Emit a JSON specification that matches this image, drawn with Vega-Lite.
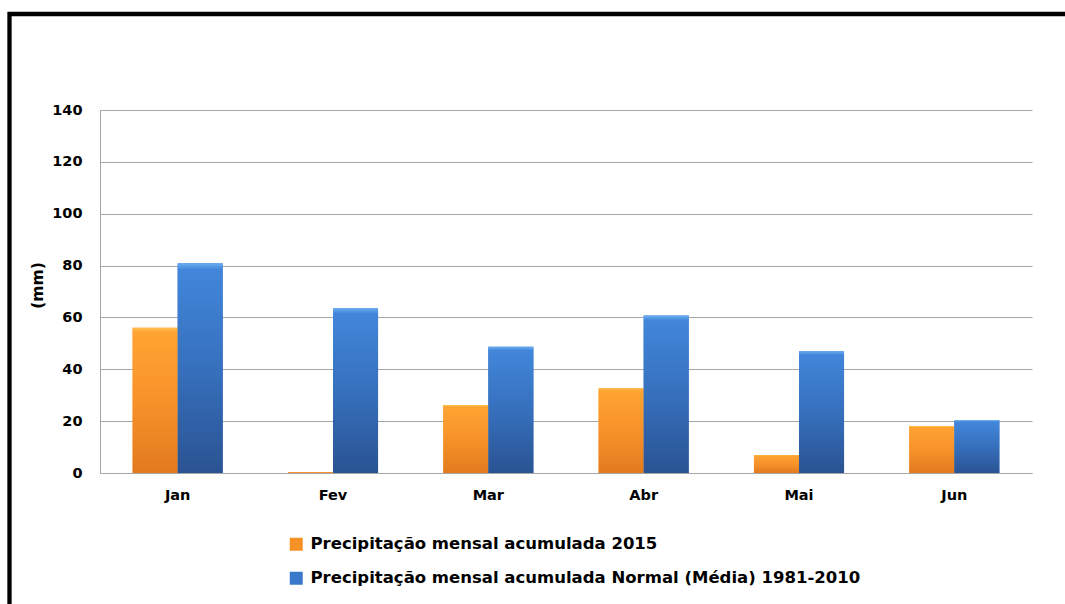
{
  "$schema": "https://vega.github.io/schema/vega-lite/v6.json",
  "width": 1067.5,
  "height": 602,
  "autosize": {"type": "none"},
  "padding": {"left": 9.5, "top": 14, "right": -12, "bottom": -12},
  "background": "white",
  "config": {
    "view": {"stroke": "#000000", "strokeWidth": 4.3},
    "font": "DejaVu Sans"
  },
  "data": {
    "values": [
      {"mes": "Jan", "serie": "Precipitação mensal acumulada 2015", "mm": 56},
      {"mes": "Jan", "serie": "Precipitação mensal acumulada Normal (Média) 1981-2010", "mm": 80.9},
      {"mes": "Fev", "serie": "Precipitação mensal acumulada 2015", "mm": 0.4},
      {"mes": "Fev", "serie": "Precipitação mensal acumulada Normal (Média) 1981-2010", "mm": 63.5},
      {"mes": "Mar", "serie": "Precipitação mensal acumulada 2015", "mm": 26.2},
      {"mes": "Mar", "serie": "Precipitação mensal acumulada Normal (Média) 1981-2010", "mm": 48.7},
      {"mes": "Abr", "serie": "Precipitação mensal acumulada 2015", "mm": 32.7},
      {"mes": "Abr", "serie": "Precipitação mensal acumulada Normal (Média) 1981-2010", "mm": 60.7},
      {"mes": "Mai", "serie": "Precipitação mensal acumulada 2015", "mm": 6.9},
      {"mes": "Mai", "serie": "Precipitação mensal acumulada Normal (Média) 1981-2010", "mm": 47},
      {"mes": "Jun", "serie": "Precipitação mensal acumulada 2015", "mm": 18.1},
      {"mes": "Jun", "serie": "Precipitação mensal acumulada Normal (Média) 1981-2010", "mm": 20.3}
    ]
  },
  "encoding": {
    "x": {
      "field": "mes",
      "type": "nominal",
      "sort": ["Jan", "Fev", "Mar", "Abr", "Mai", "Jun"],
      "scale": {"range": [90.5, 1022.5], "paddingInner": 0.42, "paddingOuter": 0.21},
      "axis": {
        "title": null,
        "orient": "bottom",
        "offset": -143,
        "labelAngle": 0,
        "labelFont": "DejaVu Sans",
        "labelFontWeight": "bold",
        "labelFontSize": 14.5,
        "labelColor": "#000000",
        "labelPadding": 15,
        "ticks": false,
        "tickSize": 0,
        "domainColor": "#a6a6a6",
        "domainWidth": 1,
        "grid": false
      }
    },
    "xOffset": {
      "field": "serie",
      "type": "nominal",
      "scale": {"domain": ["Precipitação mensal acumulada 2015", "Precipitação mensal acumulada Normal (Média) 1981-2010"]}
    },
    "y": {
      "field": "mm",
      "type": "quantitative",
      "scale": {"domain": [0, 140], "nice": false, "range": [459, 96]},
      "axis": {
        "title": "(mm)",
        "orient": "left",
        "offset": -90.5,
        "values": [0, 20, 40, 60, 80, 100, 120, 140],
        "labelFont": "DejaVu Sans",
        "labelFontWeight": "bold",
        "labelFontSize": 14.5,
        "labelColor": "#000000",
        "labelPadding": 18,
        "ticks": false,
        "tickSize": 0,
        "domainColor": "#a6a6a6",
        "domainWidth": 1,
        "grid": true,
        "gridColor": "#a6a6a6",
        "gridWidth": 1,
        "titleFont": "DejaVu Sans",
        "titleFontWeight": "bold",
        "titleFontSize": 15.5,
        "titleColor": "#000000",
        "titleX": -62.5,
        "titleY": 271,
        "titleAngle": -90,
        "titleAlign": "center",
        "titleBaseline": "middle"
      }
    }
  },
  "layer": [
    {
      "mark": {"type": "bar"},
      "encoding": {
        "color": {
          "field": "serie",
          "type": "nominal",
          "scale": {
            "domain": ["Precipitação mensal acumulada 2015", "Precipitação mensal acumulada Normal (Média) 1981-2010"],
            "range": ["#F49226", "#3A78C9"]
          },
          "legend": {
            "title": null,
            "orient": "none",
            "legendX": 278.5,
            "legendY": 522,
            "direction": "vertical",
            "symbolType": "square",
            "symbolSize": 169,
            "symbolStrokeWidth": 0,
            "labelFont": "DejaVu Sans",
            "labelFontWeight": "bold",
            "labelFontSize": 16.5,
            "labelColor": "#000000",
            "labelOffset": 6,
            "labelLimit": 800,
            "rowPadding": 17
          }
        }
      }
    },
    {
      "mark": {"type": "bar"},
      "encoding": {
        "fill": {
          "condition": {
            "test": "datum.serie == 'Precipitação mensal acumulada 2015'",
            "value": {
              "gradient": "linear",
              "x1": 0, "y1": 0, "x2": 0, "y2": 1,
              "stops": [
                {"offset": 0, "color": "#FFC050"},
                {"offset": 0.03, "color": "#FFA432"},
                {"offset": 0.5, "color": "#F7922A"},
                {"offset": 1, "color": "#E27A1E"}
              ]
            }
          },
          "value": {
            "gradient": "linear",
            "x1": 0, "y1": 0, "x2": 0, "y2": 1,
            "stops": [
              {"offset": 0, "color": "#6AAEF0"},
              {"offset": 0.03, "color": "#4286DA"},
              {"offset": 0.5, "color": "#3670BD"},
              {"offset": 1, "color": "#2A5392"}
            ]
          }
        }
      }
    }
  ]
}
